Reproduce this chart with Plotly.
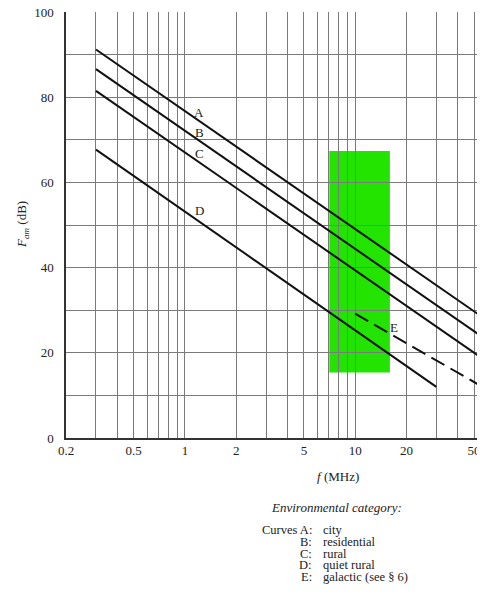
import plotly.graph_objects as go
import math

# ---- data ----
curve_names = ["A", "B", "C", "D", "E"]
curve_f = [[0.3, 100], [0.3, 100], [0.3, 100], [0.3, 30], [10, 100]]
curve_fam = [[91.2, 21.4], [86.6, 16.7], [81.5, 11.7], [67.7, 12.0], [29.2, 6.2]]
curve_dash = ["solid", "solid", "solid", "solid", "15px,7px"]

label_f = [1.21, 1.21, 1.21, 1.21, 16.9]
label_fam = [76.4, 71.6, 66.7, 53.5, 26.0]

band_f = [7.05, 16.0]
band_fam = [15.4, 67.4]

x_grid = [0.2, 0.3, 0.4, 0.5, 0.6, 0.7, 0.8, 0.9, 1, 2, 3, 4, 5, 6, 7, 8, 9, 10, 20, 30, 40, 50]
x_labels = {0.2: "0.2", 0.5: "0.5", 1: "1", 2: "2", 5: "5", 10: "10", 20: "20", 50: "50"}
y_grid = list(range(0, 101, 10))
y_labels = [str(v) if v % 20 == 0 else "" for v in y_grid]

legend_keys = ["Curves A:", "B:", "C:", "D:", "E:"]
legend_names = ["city", "residential", "rural", "quiet rural", "galactic (see § 6)"]

# ---- layout geometry (px) ----
W, H = 488, 596
L, T, R, B = 66, 12, 477, 438
FONT = "Liberation Serif, Times New Roman, Times, serif"
TXT = "#222222"


def px_x(p):
    return (p - L) / (R - L)


def px_y(p):
    return (B - p) / (B - T)


def font(size=13):
    return dict(family=FONT, size=size, color=TXT)


fig = go.Figure()

for name, fx, fy, dash in zip(curve_names, curve_f, curve_fam, curve_dash):
    fig.add_trace(go.Scatter(x=fx, y=fy, mode="lines", name=name,
                             line=dict(color="#111111", width=2, dash=dash),
                             showlegend=False, hoverinfo="skip"))

# green band (drawn below the grid)
fig.add_shape(type="rect", xref="x", yref="y",
              x0=band_f[0], x1=band_f[1], y0=band_fam[0], y1=band_fam[1],
              fillcolor="#22e400", line=dict(width=0), layer="below")

annotations = []
for name, lf, ly in zip(curve_names, label_f, label_fam):
    annotations.append(dict(x=math.log10(lf), y=ly, xref="x", yref="y", text=name,
                            showarrow=False, xanchor="center", yanchor="middle",
                            font=font(13)))

annotations.append(dict(x=px_x(22), y=px_y(225), xref="paper", yref="paper",
                        text="<i>F</i><sub><i>am</i></sub> (dB)", textangle=-90,
                        showarrow=False, xanchor="center", yanchor="middle",
                        font=font(13)))
annotations.append(dict(x=px_x(338), y=px_y(476), xref="paper", yref="paper",
                        text="<i>f</i> (MHz)", showarrow=False,
                        xanchor="center", yanchor="middle", font=font(13)))
annotations.append(dict(x=px_x(336), y=px_y(507), xref="paper", yref="paper",
                        text="<i>Environmental category:</i>", showarrow=False,
                        xanchor="center", yanchor="middle", font=font(13)))
for i, (k, v) in enumerate(zip(legend_keys, legend_names)):
    yy = 530 + 11.8 * i
    annotations.append(dict(x=px_x(314), y=px_y(yy), xref="paper", yref="paper",
                            text=k, showarrow=False, xanchor="right", yanchor="middle",
                            font=font(12.5)))
    annotations.append(dict(x=px_x(321), y=px_y(yy), xref="paper", yref="paper",
                            text=v, showarrow=False, xanchor="left", yanchor="middle",
                            font=font(12.5)))

# clip the right edge of the tick labels like the reference crop
fig.add_shape(type="rect", xref="paper", yref="paper",
              x0=1.0, x1=1.2, y0=px_y(B + 3), y1=px_y(B + 30),
              fillcolor="white", line=dict(width=0), layer="above")

fig.update_layout(
    width=W, height=H, autosize=False,
    margin=dict(l=L, r=W - R, t=T, b=H - B, pad=0, autoexpand=False),
    paper_bgcolor="white", plot_bgcolor="white",
    annotations=annotations,
    xaxis=dict(type="log", range=[math.log10(0.2), math.log10(52)],
               tickmode="array", tickvals=x_grid,
               ticktext=[x_labels.get(v, "") for v in x_grid],
               showgrid=True, gridcolor="#7a7a7a", gridwidth=1,
               showline=True, linecolor="#333333", linewidth=1.5,
               ticks="", ticklen=0, zeroline=False, automargin=False,
               tickfont=font(13)),
    yaxis=dict(range=[0, 100], tickmode="array", tickvals=y_grid, ticktext=y_labels,
               showgrid=True, gridcolor="#7a7a7a", gridwidth=1,
               showline=True, linecolor="#333333", linewidth=1.5,
               ticks="", ticklen=0, zeroline=False, automargin=False,
               ticklabelstandoff=8, tickfont=font(13)),
)

fig.write_html("out.html", config={"displayModeBar": False},
               post_script="document.body.style.margin='0';")
